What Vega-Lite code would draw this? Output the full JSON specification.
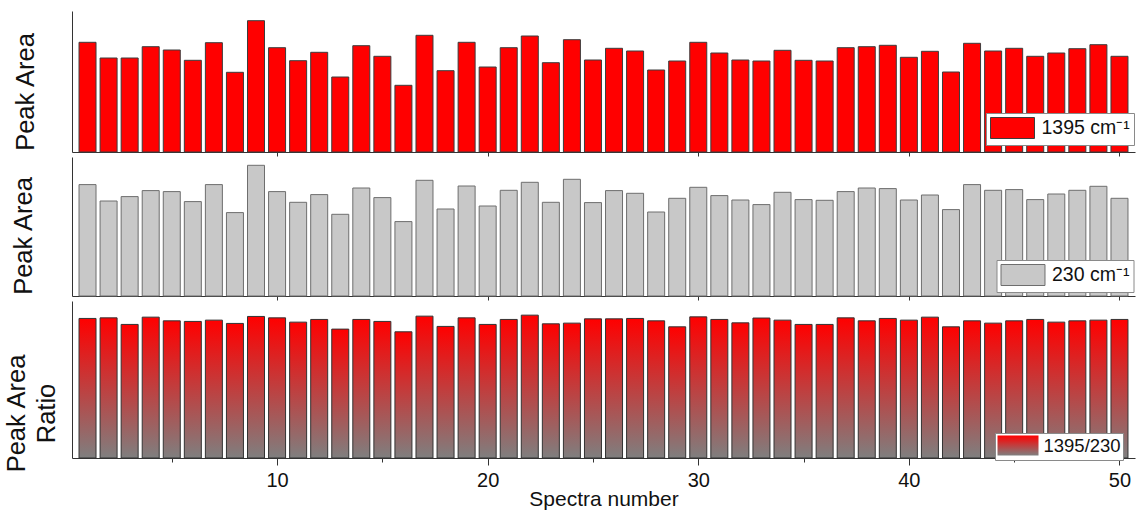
{
  "$schema": "https://vega.github.io/schema/vega-lite/v6.json",
  "background": "white",
  "padding": {"left": 4, "top": 11, "right": 2, "bottom": 0},
  "config": {
    "view": {"stroke": null},
    "font": "Liberation Sans",
    "axis": {
      "grid": false,
      "domainColor": "#333333",
      "domainWidth": 1,
      "tickColor": "#333333",
      "labelFont": "Liberation Sans",
      "titleFont": "Liberation Sans",
      "titleFontWeight": "normal",
      "labelColor": "#111111",
      "titleColor": "#111111"
    },
    "legend": {
      "title": null,
      "orient": "none",
      "padding": 4,
      "strokeColor": "#8a8a8a",
      "fillColor": "white",
      "symbolType": "M-2.095,-1H2.095V1H-2.095Z",
      "symbolSize": 441,
      "symbolOffset": 11.5,
      "symbolStrokeColor": "#3c3c3c",
      "symbolStrokeWidth": 1,
      "symbolOpacity": 1,
      "labelFont": "Liberation Sans",
      "labelFontSize": 19.5,
      "labelColor": "#111111",
      "labelOffset": 18,
      "labelLimit": 300
    }
  },
  "datasets": {
    "spectra": [
      {"n": 1, "a1395": 109.7, "a230": 111.4, "ratio": 1.400},
      {"n": 2, "a1395": 94.0, "a230": 95.0, "ratio": 1.406},
      {"n": 3, "a1395": 94.0, "a230": 99.4, "ratio": 1.340},
      {"n": 4, "a1395": 105.3, "a230": 105.4, "ratio": 1.413},
      {"n": 5, "a1395": 102.0, "a230": 104.4, "ratio": 1.376},
      {"n": 6, "a1395": 91.7, "a230": 94.4, "ratio": 1.370},
      {"n": 7, "a1395": 109.3, "a230": 111.4, "ratio": 1.383},
      {"n": 8, "a1395": 79.7, "a230": 83.4, "ratio": 1.350},
      {"n": 9, "a1395": 131.3, "a230": 130.7, "ratio": 1.420},
      {"n": 10, "a1395": 104.3, "a230": 104.4, "ratio": 1.406},
      {"n": 11, "a1395": 91.3, "a230": 93.7, "ratio": 1.363},
      {"n": 12, "a1395": 99.7, "a230": 101.4, "ratio": 1.390},
      {"n": 13, "a1395": 75.0, "a230": 81.7, "ratio": 1.293},
      {"n": 14, "a1395": 106.3, "a230": 108.0, "ratio": 1.390},
      {"n": 15, "a1395": 95.7, "a230": 98.4, "ratio": 1.370},
      {"n": 16, "a1395": 66.7, "a230": 74.4, "ratio": 1.266},
      {"n": 17, "a1395": 116.7, "a230": 115.7, "ratio": 1.423},
      {"n": 18, "a1395": 81.3, "a230": 87.0, "ratio": 1.320},
      {"n": 19, "a1395": 109.7, "a230": 110.0, "ratio": 1.406},
      {"n": 20, "a1395": 85.0, "a230": 90.0, "ratio": 1.340},
      {"n": 21, "a1395": 104.3, "a230": 105.7, "ratio": 1.390},
      {"n": 22, "a1395": 116.0, "a230": 113.7, "ratio": 1.433},
      {"n": 23, "a1395": 89.3, "a230": 93.7, "ratio": 1.346},
      {"n": 24, "a1395": 112.3, "a230": 116.7, "ratio": 1.353},
      {"n": 25, "a1395": 92.0, "a230": 93.4, "ratio": 1.396},
      {"n": 26, "a1395": 103.7, "a230": 105.4, "ratio": 1.396},
      {"n": 27, "a1395": 101.0, "a230": 102.7, "ratio": 1.400},
      {"n": 28, "a1395": 82.0, "a230": 84.0, "ratio": 1.376},
      {"n": 29, "a1395": 91.0, "a230": 97.7, "ratio": 1.316},
      {"n": 30, "a1395": 109.7, "a230": 108.7, "ratio": 1.416},
      {"n": 31, "a1395": 99.0, "a230": 100.4, "ratio": 1.390},
      {"n": 32, "a1395": 92.0, "a230": 96.0, "ratio": 1.356},
      {"n": 33, "a1395": 91.0, "a230": 91.4, "ratio": 1.404},
      {"n": 34, "a1395": 101.7, "a230": 103.7, "ratio": 1.383},
      {"n": 35, "a1395": 91.7, "a230": 96.4, "ratio": 1.340},
      {"n": 36, "a1395": 91.0, "a230": 95.7, "ratio": 1.340},
      {"n": 37, "a1395": 104.3, "a230": 104.4, "ratio": 1.406},
      {"n": 38, "a1395": 105.3, "a230": 108.0, "ratio": 1.376},
      {"n": 39, "a1395": 106.7, "a230": 107.4, "ratio": 1.400},
      {"n": 40, "a1395": 94.7, "a230": 96.0, "ratio": 1.383},
      {"n": 41, "a1395": 100.7, "a230": 101.0, "ratio": 1.413},
      {"n": 42, "a1395": 80.0, "a230": 86.4, "ratio": 1.316},
      {"n": 43, "a1395": 108.7, "a230": 111.4, "ratio": 1.376},
      {"n": 44, "a1395": 101.0, "a230": 105.7, "ratio": 1.353},
      {"n": 45, "a1395": 103.7, "a230": 106.4, "ratio": 1.376},
      {"n": 46, "a1395": 95.7, "a230": 96.4, "ratio": 1.390},
      {"n": 47, "a1395": 99.0, "a230": 102.0, "ratio": 1.363},
      {"n": 48, "a1395": 103.3, "a230": 105.7, "ratio": 1.376},
      {"n": 49, "a1395": 107.3, "a230": 109.7, "ratio": 1.383},
      {"n": 50, "a1395": 95.7, "a230": 97.7, "ratio": 1.390}
    ]
  },
  "spacing": 5,
  "bounds": "flush",
  "resolve": {
    "scale": {"color": "independent", "opacity": "independent", "y": "independent", "x": "independent"},
    "legend": {"color": "independent", "opacity": "independent"},
    "axis": {"x": "independent", "y": "independent"}
  },
  "vconcat": [
    {
      "data": {"name": "spectra"},
      "width": 1063,
      "height": 141,
      "mark": {"type": "bar", "width": 17, "stroke": "#3c3c3c", "strokeWidth": 1},
      "encoding": {
        "x": {
          "field": "n", "type": "quantitative",
          "scale": {"domain": [0.5, 50.5], "nice": false, "zero": false},
          "axis": {"values": [10, 20, 30, 40, 50], "labels": false, "title": null, "tickSize": 4}
        },
        "y": {
          "field": "a1395", "type": "quantitative",
          "scale": {"domain": [0, 141], "nice": false},
          "axis": {
            "title": "Peak Area", "ticks": false, "labels": false,
            "titleFontSize": 25.5, "titleAngle": -90, "titleAlign": "center",
            "titleBaseline": "alphabetic", "titleX": -39, "titleY": 80.5
          }
        },
        "color": {
          "datum": "1395 cm⁻¹",
          "scale": {"range": ["#ff0000"]},
          "legend": {"legendX": 914, "legendY": 102}
        }
      }
    },
    {
      "data": {"name": "spectra"},
      "width": 1063,
      "height": 139,
      "mark": {"type": "bar", "width": 17, "stroke": "#6e6e6e", "strokeWidth": 1},
      "encoding": {
        "x": {
          "field": "n", "type": "quantitative",
          "scale": {"domain": [0.5, 50.5], "nice": false, "zero": false},
          "axis": {"values": [10, 20, 30, 40, 50], "labels": false, "title": null, "tickSize": 4}
        },
        "y": {
          "field": "a230", "type": "quantitative",
          "scale": {"domain": [0, 139], "nice": false},
          "axis": {
            "title": "Peak Area", "ticks": false, "labels": false,
            "titleFontSize": 25.5, "titleAngle": -90, "titleAlign": "center",
            "titleBaseline": "alphabetic", "titleX": -41, "titleY": 78.5
          }
        },
        "color": {
          "datum": "230 cm⁻¹",
          "scale": {"range": ["#c8c8c8"]},
          "legend": {"legendX": 924.5, "legendY": 103, "symbolStrokeColor": "#6e6e6e", "labelOffset": 18}
        }
      }
    },
    {
      "data": {"name": "spectra"},
      "width": 1063,
      "height": 157,
      "mark": {
        "type": "bar", "width": 17, "stroke": "#333333", "strokeWidth": 1,
        "fill": {
          "gradient": "linear", "x1": 0, "y1": 0, "x2": 0, "y2": 1,
          "stops": [
            {"offset": 0, "color": "#ff0000"},
            {"offset": 1, "color": "#7f7f7f"}
          ]
        }
      },
      "encoding": {
        "x": {
          "field": "n", "type": "quantitative",
          "scale": {"domain": [0.5, 50.5], "nice": false, "zero": false},
          "axis": {
            "values": [5, 10, 15, 20, 25, 30, 35, 40, 45, 50],
            "labelExpr": "datum.value % 10 === 0 ? datum.label : ''",
            "tickSize": {"condition": {"test": "datum.value % 10 === 0", "value": 7}, "value": 4},
            "labelFontSize": 20, "labelPadding": 5,
            "title": "Spectra number", "titleFontSize": 21,
            "titleBaseline": "alphabetic", "titleY": 47.4
          }
        },
        "y": {
          "field": "ratio", "type": "quantitative",
          "scale": {"domain": [0, 1.575], "nice": false},
          "axis": {
            "title": ["Peak Area", "Ratio"], "ticks": false, "labels": false,
            "titleFontSize": 25.5, "titleLineHeight": 30, "titleAngle": -90, "titleAlign": "center",
            "titleBaseline": "alphabetic", "titleX": -47.7, "titleY": 112
          }
        },
        "opacity": {
          "datum": "1395/230",
          "type": "nominal",
          "scale": {"range": [1, 1]},
          "legend": {
            "legendX": 923, "legendY": 132, "padding": 2,
            "symbolType": "M-2.05,-1H2.05V1H-2.05Z",
            "symbolSize": 400,
            "symbolOffset": 10.5,
            "symbolStrokeColor": "#333333",
            "labelOffset": 15,
            "labelFontSize": 18.5
          }
        }
      }
    }
  ]
}
